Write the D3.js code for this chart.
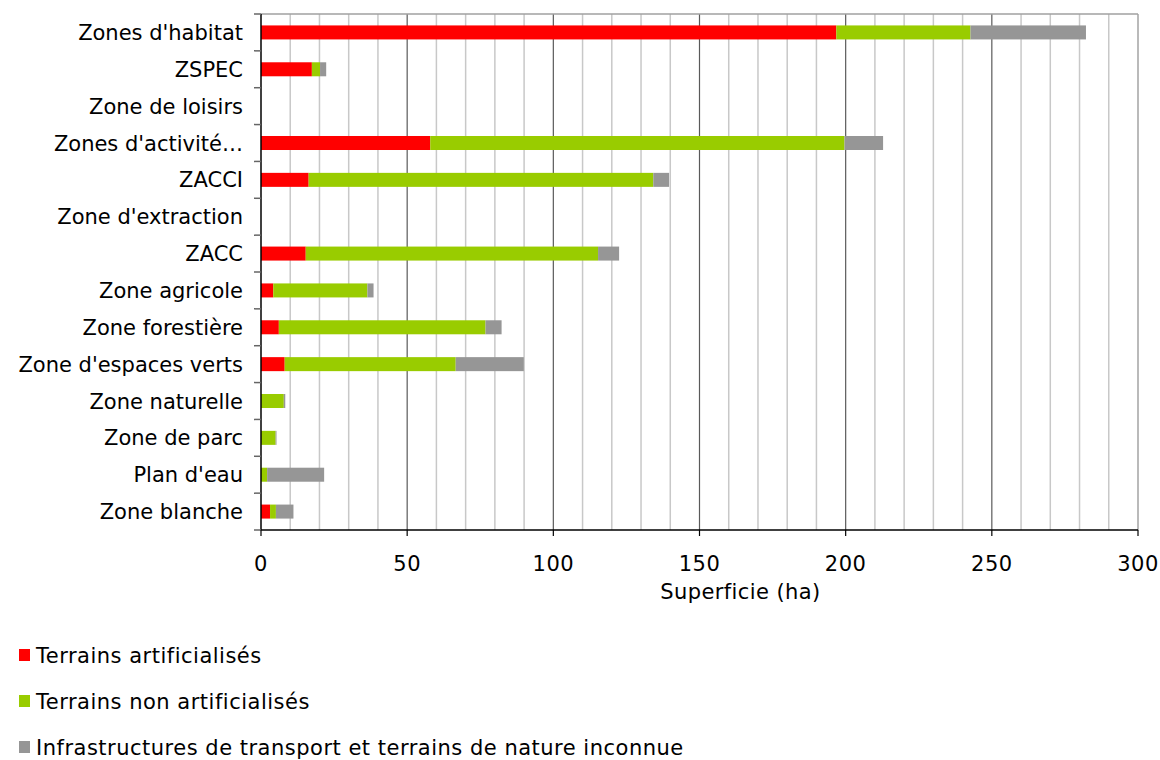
<!DOCTYPE html>
<html>
<head>
<meta charset="utf-8">
<script src="https://cdn.jsdelivr.net/npm/d3@7/dist/d3.min.js"></script>
<style>
  body { margin: 0; background: #fff; }
  svg text { font-family: "DejaVu Sans", Verdana, sans-serif; fill: #000; }
</style>
</head>
<body>
<div id="chart"></div>
<script>
/* ── Data ─────────────────────────────────────────────────────────── */

const categories = [
  "Zones d'habitat", "ZSPEC", "Zone de loisirs", "Zones d'activité\u2026", "ZACCI",
  "Zone d'extraction", "ZACC", "Zone agricole", "Zone forestière",
  "Zone d'espaces verts", "Zone naturelle", "Zone de parc", "Plan d'eau", "Zone blanche"
];

const artificialises =    [196.8, 17.4, 0, 57.9, 16.3, 0, 15.3, 4.2, 6.1, 8.1, 0, 0, 0, 3.1];
const nonArtificialises = [45.9, 2.8, 0, 141.7, 117.9, 0, 100.0, 32.2, 70.7, 58.5, 7.8, 5.0, 2.1, 2.0];
const infrastructures =   [39.5, 2.1, 0, 13.2, 5.4, 0, 7.2, 2.1, 5.5, 23.3, 0.5, 0.3, 19.5, 6.0];

const seriesNames = [
  "Terrains artificialisés",
  "Terrains non artificialisés",
  "Infrastructures de transport et terrains de nature inconnue"
];
const seriesColors = ["#FF0000", "#99CC00", "#969696"];

const xTicks = [0, 50, 100, 150, 200, 250, 300];
const xTitle = "Superficie (ha)";

/* ── Layout ───────────────────────────────────────────────────────── */

const W = 1160, H = 760;
const plot = { left: 261, top: 14, right: 1138, bottom: 530 };

const svg = d3.select('#chart').append('svg')
  .attr('width', W).attr('height', H);

const x = d3.scaleLinear().domain([0, 300]).range([plot.left, plot.right]);
const y = d3.scaleBand().domain(categories).range([plot.top, plot.bottom]).paddingInner(0.62).paddingOuter(0.31);

// gridlines every 10, darker every 50
const grid = svg.append('g');
d3.range(10, 301, 10).forEach(function (v) {
  const major = v % 50 === 0;
  grid.append('line')
    .attr('x1', x(v)).attr('x2', x(v))
    .attr('y1', plot.top).attr('y2', plot.bottom)
    .attr('stroke', major ? (v === 300 ? '#8c8c8c' : '#5a5a5a') : '#c8c8c8')
    .attr('stroke-width', major ? 1.2 : 1.5);
});
// top border
grid.append('line')
  .attr('x1', plot.left).attr('x2', plot.right)
  .attr('y1', plot.top).attr('y2', plot.top)
  .attr('stroke', '#a0a0a0').attr('stroke-width', 1.5);

/* ── Stacked bars ─────────────────────────────────────────────────── */

const rows = categories.map(function (c, i) {
  return { cat: c, s0: artificialises[i], s1: nonArtificialises[i], s2: infrastructures[i] };
});
const stack = d3.stack().keys(['s0', 's1', 's2'])(rows);

svg.append('g').selectAll('g')
  .data(stack).join('g')
  .attr('fill', function (d, i) { return seriesColors[i]; })
  .selectAll('rect')
  .data(function (d) { return d.filter(function (p) { return p[1] - p[0] > 0; }); })
  .join('rect')
  .attr('x', function (d) { return x(d[0]); })
  .attr('width', function (d) { return x(d[1]) - x(d[0]); })
  .attr('y', function (d) { return y(d.data.cat); })
  .attr('height', y.bandwidth());

/* ── Axes ─────────────────────────────────────────────────────────── */

// category axis: ticks between categories
const yAxis = svg.append('g');
yAxis.append('line')
  .attr('x1', plot.left).attr('x2', plot.left)
  .attr('y1', plot.top).attr('y2', plot.bottom)
  .attr('stroke', '#000').attr('stroke-width', 1.5);
d3.range(categories.length + 1).forEach(function (i) {
  const yy = plot.top + i * (plot.bottom - plot.top) / categories.length;
  yAxis.append('line')
    .attr('x1', plot.left - 7).attr('x2', plot.left)
    .attr('y1', yy).attr('y2', yy)
    .attr('stroke', '#666').attr('stroke-width', 1.5);
});
yAxis.selectAll('text.cat')
  .data(categories).join('text')
  .attr('class', 'cat')
  .attr('x', plot.left - 18)
  .attr('y', function (d) { return y(d) + y.bandwidth() / 2; })
  .attr('dy', '0.36em')
  .attr('text-anchor', 'end')
  .style('font-size', '21px')
  .text(function (d) { return d; });

// value axis
const xAxis = svg.append('g');
xAxis.append('line')
  .attr('x1', plot.left).attr('x2', plot.right)
  .attr('y1', plot.bottom).attr('y2', plot.bottom)
  .attr('stroke', '#000').attr('stroke-width', 1.5);
xAxis.selectAll('line.tick')
  .data(xTicks).join('line')
  .attr('class', 'tick')
  .attr('x1', function (d) { return x(d); }).attr('x2', function (d) { return x(d); })
  .attr('y1', plot.bottom).attr('y2', plot.bottom + 6)
  .attr('stroke', '#000').attr('stroke-width', 1.2);
xAxis.selectAll('text.tl')
  .data(xTicks).join('text')
  .attr('class', 'tl')
  .attr('x', function (d) { return x(d); })
  .attr('y', 571)
  .attr('text-anchor', 'middle')
  .style('font-size', '21px')
  .style('letter-spacing', '0.5px')
  .text(function (d) { return d; });
// title sits a bit right of the plot centre, as in the original
svg.append('text')
  .attr('x', x(164))
  .attr('y', 599)
  .attr('text-anchor', 'middle')
  .style('font-size', '21px')
  .style('letter-spacing', '0.4px')
  .text(xTitle);

/* ── Legend ───────────────────────────────────────────────────────── */

const legend = svg.append('g').selectAll('g')
  .data(seriesNames).join('g')
  .attr('transform', function (d, i) { return 'translate(19,' + (655 + i * 46) + ')'; });
legend.append('rect')
  .attr('x', 0).attr('y', -6).attr('width', 11).attr('height', 12)
  .attr('fill', function (d, i) { return seriesColors[i]; });
legend.append('text')
  .attr('x', 17).attr('y', 0).attr('dy', '0.36em')
  .style('font-size', '21px')
  .style('letter-spacing', '0.5px')
  .text(function (d) { return d; });
</script>
</body>
</html>
